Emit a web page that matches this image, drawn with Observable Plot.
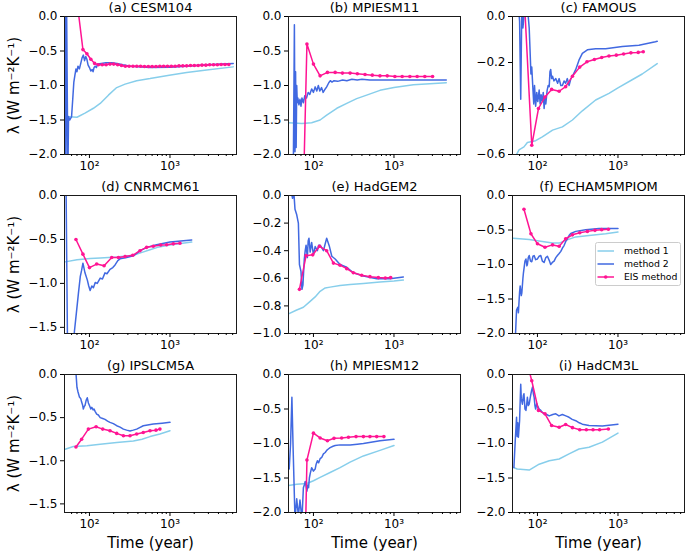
<!DOCTYPE html>
<html><head><meta charset="utf-8">
<script src="https://cdn.jsdelivr.net/npm/d3@7"></script>
<script src="https://cdn.jsdelivr.net/npm/@observablehq/plot@0.6"></script>
<style>
body{margin:0;background:#fff;font-family:"DejaVu Sans",sans-serif}
#chart{position:relative;width:685px;height:552px;overflow:hidden;background:#fff}
#chart svg{position:absolute}
</style></head><body><div id="chart"></div>
<script>
// ---- data: [time (year), lambda] ----
const titles = ["(a) CESM104","(b) MPIESM11","(c) FAMOUS","(d) CNRMCM61","(e) HadGEM2","(f) ECHAM5MPIOM","(g) IPSLCM5A","(h) MPIESM12","(i) HadCM3L"];
const seriesNames = ["method 1","method 2","EIS method"];

const a_m1 = [[50,-1.45],[70,-1.46],[88,-1.40],[112,-1.33],[136,-1.26],[172,-1.14],[218,-1.03],[277,-0.98],[386,-0.93],[565,-0.90],[980,-0.85],[1610,-0.81],[2850,-0.775],[6100,-0.73]];
const a_m2 = [[50,0.3],[51,-2.4],[52,0.2],[54,-2.3],[55,-1.45],[57,-1.5],[60,-1.45],[62,-1.2],[64,-0.95],[66,-0.85],[68,-0.76],[70,-0.80],[72,-0.72],[75,-0.76],[78,-0.68],[81,-0.60],[84,-0.56],[87,-0.64],[90,-0.58],[93,-0.62],[96,-0.70],[100,-0.74],[104,-0.79],[108,-0.77],[111,-0.80],[114,-0.74],[118,-0.72],[122,-0.74],[126,-0.69],[140,-0.68],[160,-0.67],[190,-0.67],[220,-0.68],[260,-0.70],[320,-0.72],[400,-0.73],[565,-0.74],[1000,-0.735],[1600,-0.72],[2850,-0.70],[6100,-0.68]];
const a_eis = [[73,0.05],[83,-0.48],[93,-0.54],[104,-0.62],[116,-0.68],[129,-0.70],[144,-0.70],[161,-0.70],[180,-0.69],[200,-0.69],[224,-0.70],[250,-0.71],[279,-0.72],[311,-0.72],[347,-0.72],[387,-0.72],[432,-0.72],[482,-0.725],[538,-0.725],[600,-0.725],[670,-0.725],[748,-0.72],[834,-0.72],[931,-0.72],[1039,-0.72],[1159,-0.72],[1294,-0.715],[1444,-0.715],[1611,-0.715],[1798,-0.71],[2006,-0.71],[2239,-0.71],[2498,-0.705],[2788,-0.705],[3111,-0.70],[3472,-0.70],[3874,-0.70],[4323,-0.695],[4824,-0.695],[5384,-0.695]];

const b_m1 = [[49,-1.54],[72,-1.55],[95,-1.54],[121,-1.50],[146,-1.43],[195,-1.33],[259,-1.26],[344,-1.19],[458,-1.14],[670,-1.07],[1000,-1.03],[1740,-0.99],[2790,-0.975],[4460,-0.96]];
const b_m2 = [[56,-2.5],[58,-0.12],[59,-1.96],[60,-0.8],[61,-1.9],[62,-1.0],[63,-1.25],[64,-1.18],[66,-1.28],[68,-1.2],[70,-1.3],[72,-1.18],[75,-1.25],[78,-1.15],[82,-1.18],[86,-1.10],[90,-1.13],[95,-1.05],[100,-1.10],[105,-1.02],[110,-1.08],[115,-1.00],[120,-1.08],[126,-1.03],[132,-1.10],[140,-1.05],[146,-1.02],[155,-0.96],[162,-0.93],[170,-0.95],[180,-0.93],[200,-0.94],[230,-0.92],[260,-0.93],[300,-0.91],[350,-0.92],[400,-0.91],[500,-0.92],[700,-0.92],[1000,-0.92],[2000,-0.92],[4460,-0.92]];
const b_eis = [[70,-4],[83,-0.40],[100,-0.69],[121,-0.86],[149,-0.81],[186,-0.81],[229,-0.82],[285,-0.82],[351,-0.83],[437,-0.84],[538,-0.85],[670,-0.86],[825,-0.86],[1026,-0.87],[1264,-0.87],[1575,-0.87],[1940,-0.87],[2415,-0.87],[3015,-0.87]];

const c_m1 = [[50,-0.62],[55,-0.60],[59,-0.58],[68,-0.567],[75,-0.548],[95,-0.54],[115,-0.523],[154,-0.494],[204,-0.48],[272,-0.45],[361,-0.41],[528,-0.363],[773,-0.334],[1000,-0.31],[1500,-0.275],[2000,-0.25],[3070,-0.205]];
const c_m2 = [[58,0.05],[60,-0.02],[62,-0.36],[64,0.05],[66,-0.05],[70,0.05],[76,0.02],[79,-0.05],[81,-0.15],[83,-0.25],[85,-0.22],[88,-0.32],[90,-0.38],[92,-0.30],[95,-0.39],[98,-0.33],[101,-0.37],[105,-0.32],[108,-0.38],[111,-0.34],[115,-0.37],[118,-0.33],[121,-0.40],[124,-0.35],[127,-0.38],[132,-0.32],[136,-0.30],[140,-0.305],[143,-0.24],[146,-0.23],[150,-0.27],[154,-0.26],[160,-0.28],[169,-0.27],[178,-0.29],[186,-0.27],[195,-0.30],[204,-0.30],[214,-0.28],[224,-0.29],[235,-0.27],[247,-0.30],[260,-0.27],[272,-0.26],[299,-0.23],[328,-0.19],[361,-0.16],[417,-0.145],[528,-0.14],[703,-0.14],[1133,-0.13],[1820,-0.125],[2920,-0.11],[3070,-0.108]];
const c_eis = [[70,0.02],[85,-0.56],[103,-0.40],[124,-0.35],[150,-0.317],[186,-0.325],[224,-0.305],[272,-0.26],[335,-0.22],[412,-0.197],[509,-0.187],[628,-0.178],[773,-0.172],[953,-0.168],[1174,-0.163],[1447,-0.158],[1785,-0.156],[2060,-0.153]];

const d_m1 = [[50,-0.755],[70,-0.73],[102,-0.717],[136,-0.71],[218,-0.70],[351,-0.68],[440,-0.65],[565,-0.617],[700,-0.59],[1000,-0.563],[1860,-0.53]];
const d_m2 = [[51,0.3],[54,-2.2],[62,-1.9],[65,-1.55],[68,-1.38],[73,-1.11],[77,-0.92],[80,-0.85],[83,-0.77],[88,-0.88],[94,-0.96],[98,-1.03],[102,-1.08],[107,-1.03],[112,-1.05],[118,-0.99],[125,-1.0],[136,-0.94],[145,-0.95],[156,-0.88],[165,-0.89],[180,-0.84],[195,-0.82],[208,-0.79],[225,-0.74],[240,-0.72],[290,-0.705],[351,-0.686],[424,-0.63],[513,-0.59],[682,-0.56],[1000,-0.53],[1860,-0.505]];
const d_eis = [[68,-0.50],[83,-0.667],[100,-0.82],[123,-0.78],[152,-0.80],[189,-0.705],[229,-0.705],[277,-0.694],[345,-0.68],[424,-0.628],[513,-0.59],[620,-0.578],[767,-0.563],[910,-0.56],[1100,-0.55],[1330,-0.543]];

const e_m1 = [[49,-0.858],[62,-0.83],[75,-0.81],[91,-0.767],[105,-0.735],[121,-0.694],[140,-0.67],[161,-0.664],[214,-0.652],[285,-0.645],[417,-0.637],[670,-0.627],[1000,-0.62],[1306,-0.613]];
const e_m2 = [[52,0.05],[55,-0.02],[57,0.03],[59,-0.10],[62,-0.14],[65,-0.20],[67,-0.50],[70,-0.55],[72,-0.68],[74,-0.65],[77,-0.46],[79,-0.40],[81,-0.36],[84,-0.45],[86,-0.33],[88,-0.31],[91,-0.41],[95,-0.34],[100,-0.43],[105,-0.37],[112,-0.40],[116,-0.36],[121,-0.36],[127,-0.38],[133,-0.40],[140,-0.35],[146,-0.31],[152,-0.34],[158,-0.37],[169,-0.44],[186,-0.46],[214,-0.50],[259,-0.52],[313,-0.56],[417,-0.583],[610,-0.603],[893,-0.603],[1306,-0.59]];
const e_eis = [[67,-0.68],[81,-0.436],[98,-0.43],[119,-0.368],[146,-0.40],[177,-0.49],[214,-0.505],[259,-0.53],[313,-0.56],[397,-0.578],[503,-0.588],[640,-0.595],[780,-0.598],[910,-0.595]];

const f_m1 = [[50,-0.62],[79,-0.637],[115,-0.667],[154,-0.69],[186,-0.69],[224,-0.65],[299,-0.60],[437,-0.58],[703,-0.554],[1000,-0.53]];
const f_m2 = [[53,-2.1],[55,-1.66],[57,-1.62],[58,-1.70],[60,-1.40],[61,-1.31],[63,-1.45],[64,-1.41],[66,-1.20],[67,-1.12],[70,-0.95],[72,-0.92],[74,-1.02],[75,-1.0],[77,-0.90],[79,-0.87],[82,-0.95],[85,-0.96],[88,-0.88],[91,-0.87],[95,-0.93],[100,-0.92],[105,-0.88],[110,-0.87],[115,-0.95],[121,-0.97],[127,-0.90],[133,-0.88],[140,-0.94],[146,-1.0],[153,-0.97],[161,-0.95],[169,-0.90],[177,-0.87],[186,-0.84],[195,-0.81],[205,-0.76],[214,-0.725],[224,-0.67],[235,-0.63],[247,-0.58],[259,-0.55],[299,-0.52],[397,-0.495],[581,-0.48],[1000,-0.48]];
const f_eis = [[68,-0.20],[83,-0.554],[100,-0.70],[124,-0.75],[154,-0.716],[186,-0.735],[224,-0.627],[272,-0.57],[335,-0.54],[417,-0.52],[518,-0.505],[627,-0.495],[760,-0.49]];

const g_m1 = [[50,-0.866],[63,-0.835],[93,-0.827],[136,-0.808],[218,-0.788],[351,-0.77],[450,-0.75],[565,-0.72],[750,-0.69],[1000,-0.652]];
const g_m2 = [[68,0.02],[70,-0.15],[72,-0.20],[75,-0.26],[78,-0.28],[80,-0.32],[82,-0.35],[84,-0.40],[86,-0.37],[88,-0.36],[91,-0.30],[94,-0.27],[97,-0.33],[100,-0.36],[104,-0.40],[107,-0.38],[111,-0.41],[114,-0.40],[118,-0.43],[123,-0.46],[129,-0.47],[136,-0.50],[146,-0.51],[156,-0.52],[168,-0.54],[180,-0.555],[198,-0.57],[218,-0.594],[240,-0.61],[264,-0.633],[290,-0.645],[319,-0.655],[350,-0.645],[386,-0.633],[420,-0.615],[466,-0.594],[621,-0.575],[800,-0.565],[1000,-0.555]];
const g_eis = [[68,-0.84],[80,-0.75],[97,-0.633],[121,-0.606],[146,-0.633],[180,-0.652],[218,-0.683],[264,-0.71],[319,-0.71],[386,-0.69],[466,-0.672],[565,-0.652],[670,-0.645],[750,-0.633]];

const h_m1 = [[49,-1.61],[62,-1.59],[83,-1.58],[100,-1.54],[121,-1.49],[161,-1.42],[214,-1.35],[285,-1.27],[417,-1.18],[670,-1.10],[1000,-1.03]];
const h_m2 = [[50,-1.37],[52,-1.0],[54,-0.33],[56,-1.1],[59,-2.1],[62,-1.8],[65,-2.05],[68,-1.82],[72,-2.1],[75,-1.64],[77,-1.60],[79,-1.55],[81,-1.62],[83,-1.69],[85,-1.60],[87,-1.64],[89,-1.50],[91,-1.44],[95,-1.35],[100,-1.40],[105,-1.37],[108,-1.30],[112,-1.25],[116,-1.28],[121,-1.22],[127,-1.20],[133,-1.15],[140,-1.13],[146,-1.10],[153,-1.08],[161,-1.06],[175,-1.04],[186,-1.03],[214,-1.02],[250,-1.02],[285,-1.02],[350,-1.01],[417,-1.0],[670,-0.96],[1000,-0.94]];
const h_eis = [[76,-3.5],[83,-1.24],[100,-0.85],[121,-0.92],[149,-0.96],[180,-0.925],[224,-0.92],[272,-0.91],[338,-0.90],[417,-0.90],[503,-0.90],[610,-0.90],[750,-0.90]];

const i_m1 = [[51,-1.35],[56,-1.37],[79,-1.385],[105,-1.30],[140,-1.25],[186,-1.225],[247,-1.15],[328,-1.08],[437,-1.055],[640,-0.98],[1000,-0.85]];
const i_m2 = [[51,-1.35],[53,-0.96],[55,-0.62],[56,-0.9],[57,-0.7],[58,-0.91],[60,-0.67],[62,-0.14],[63,-0.35],[65,-0.43],[67,-0.30],[68,-0.28],[70,-0.50],[72,-0.52],[74,-0.40],[75,-0.33],[77,-0.45],[79,-0.43],[81,-0.35],[83,-0.28],[85,-0.22],[87,-0.18],[89,-0.28],[91,-0.33],[93,-0.45],[95,-0.50],[98,-0.42],[100,-0.45],[105,-0.50],[110,-0.52],[115,-0.55],[121,-0.57],[130,-0.58],[140,-0.60],[155,-0.58],[169,-0.57],[185,-0.60],[204,-0.58],[225,-0.60],[247,-0.62],[270,-0.65],[299,-0.67],[330,-0.70],[361,-0.72],[437,-0.74],[640,-0.745],[1000,-0.72]];
const i_eis = [[79,0.05],[85,-0.09],[103,-0.52],[124,-0.57],[150,-0.74],[186,-0.765],[224,-0.725],[272,-0.77],[335,-0.80],[405,-0.80],[490,-0.80],[591,-0.80],[760,-0.79]];

const yDomains = [[-2,0],[-2,0],[-0.6,0],[-1.57,0],[-1,0],[-2,0],[-1.6,0],[-2,0],[-2,0]];
const yTickSets = [
  [-2,-1.5,-1,-0.5,0],[-2,-1.5,-1,-0.5,0],[-0.6,-0.4,-0.2,0],
  [-1.5,-1,-0.5,0],[-1,-0.8,-0.6,-0.4,-0.2,0],[-2,-1.5,-1,-0.5,0],
  [-1.5,-1,-0.5,0],[-2,-1.5,-1,-0.5,0],[-2,-1.5,-1,-0.5,0]
];
const xMajorTicks = [100, 1000];
const xMajorLabels = ["10²", "10³"];
const xMinorTicks = [60,70,80,90,200,300,400,500,600,700,800,900,2000,3000,4000,5000,6000];
const yLabel = "λ (W m⁻²K⁻¹)";
const xLabel = "Time (year)";

const m1s = [a_m1,b_m1,c_m1,d_m1,e_m1,f_m1,g_m1,h_m1,i_m1];
const m2s = [a_m2,b_m2,c_m2,d_m2,e_m2,f_m2,g_m2,h_m2,i_m2];
const eiss = [a_eis,b_eis,c_eis,d_eis,e_eis,f_eis,g_eis,h_eis,i_eis];

// ---- layout / style ----
const C1 = "#87ceeb", C2 = "#4169e1", C3 = "#ff1493";
const colLeft = [64, 288, 512], rowTop = [16, 195, 374];
const FW = 172, FH = 138;
const ML = 64, MR = 2, MT = 20, MB = 42;
const xDomain = [49, 6700];
const fmt = d3.format(".1f");

const chart = document.getElementById("chart");
const X = d => d[0], Y = d => d[1];

for (let k = 0; k < 9; k++) {
  const col = k % 3, row = Math.floor(k / 3);
  const marks = [
    Plot.line(m1s[k], {x: X, y: Y, stroke: C1, strokeWidth: 1.5, clip: true}),
    Plot.line(m2s[k], {x: X, y: Y, stroke: C2, strokeWidth: 1.5, clip: true}),
    Plot.line(eiss[k], {x: X, y: Y, stroke: C3, strokeWidth: 1.5, clip: true}),
    Plot.dot(eiss[k], {x: X, y: Y, r: 1.8, fill: C3, clip: true}),
    Plot.frame({stroke: "#1a1a1a", strokeWidth: 1}),
    Plot.axisY({ticks: yTickSets[k], tickSize: 4, tickPadding: 3, tickFormat: fmt, fontSize: 12, label: null}),
    Plot.axisX({ticks: xMajorTicks, tickSize: 4, tickPadding: 3, tickFormat: d => xMajorLabels[xMajorTicks.indexOf(d)], fontSize: 12, label: null}),
    Plot.axisX({ticks: xMinorTicks, tickSize: 2, tickFormat: () => "", label: null}),
    Plot.text([titles[k]], {frameAnchor: "top", dy: -9, lineAnchor: "middle", textAnchor: "middle", fontSize: 13})
  ];
  if (col === 0) marks.push(Plot.text([yLabel], {frameAnchor: "left", rotate: -90, dx: -50, lineAnchor: "middle", textAnchor: "middle", fontSize: 15}));
  if (row === 2) marks.push(Plot.text([xLabel], {frameAnchor: "bottom", dy: 31, lineAnchor: "middle", textAnchor: "middle", fontSize: 15}));
  const svg = Plot.plot({
    width: ML + FW + MR, height: MT + FH + MB,
    marginLeft: ML, marginRight: MR, marginTop: MT, marginBottom: MB,
    x: {type: "log", domain: xDomain},
    y: {domain: yDomains[k]},
    style: {background: "transparent", overflow: "visible", fontFamily: "DejaVu Sans, sans-serif", color: "black", maxWidth: "none"},
    marks
  });
  svg.style.left = (colLeft[col] - ML) + "px";
  svg.style.top = (rowTop[row] - MT) + "px";
  chart.appendChild(svg);
}

// legend (inside panel f)
const lg = d3.select(chart).append("svg")
  .attr("width", 90).attr("height", 48)
  .style("left", "593px").style("top", "240px");
lg.append("rect").attr("x", 2.5).attr("y", 2.5).attr("width", 85).attr("height", 43).attr("rx", 2)
  .attr("fill", "white").attr("fill-opacity", 0.8).attr("stroke", "#cccccc");
const lcol = [C1, C2, C3];
seriesNames.forEach((n, i) => {
  const y = 11 + i * 13;
  lg.append("line").attr("x1", 4.5).attr("x2", 21).attr("y1", y).attr("y2", y)
    .attr("stroke", lcol[i]).attr("stroke-width", 1.5);
  if (i === 2) lg.append("circle").attr("cx", 12.7).attr("cy", y).attr("r", 1.8).attr("fill", C3);
  lg.append("text").attr("x", 31).attr("y", y).attr("dy", "0.35em")
    .attr("font-size", 9.3).attr("font-family", "DejaVu Sans, sans-serif").text(n);
});
</script></body></html>
